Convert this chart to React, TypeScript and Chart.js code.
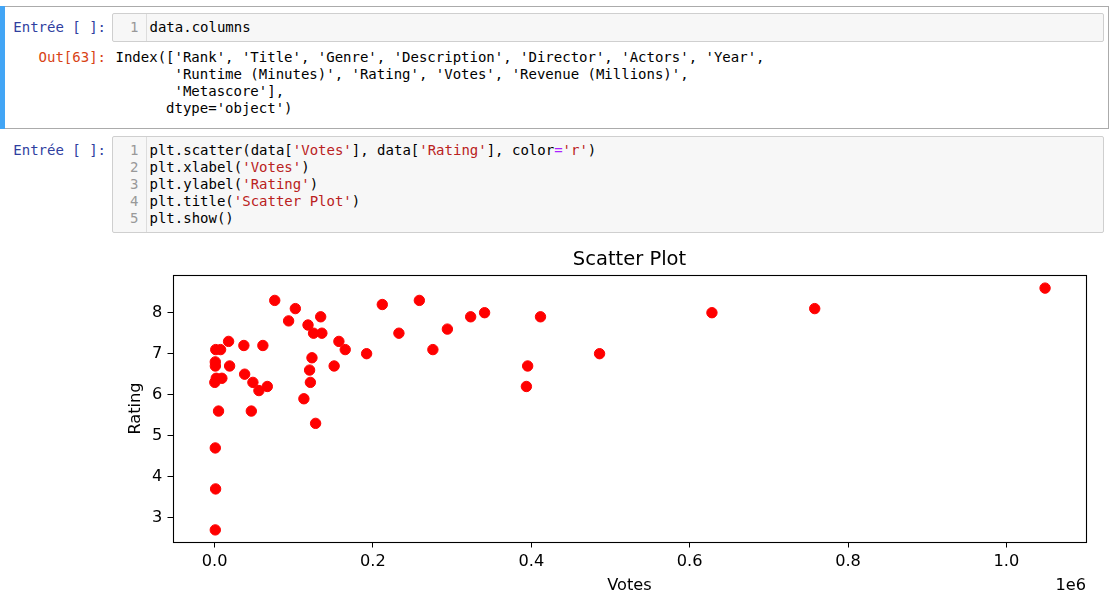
import React, { useEffect, useRef } from 'react';
import { Chart, registerables } from 'chart.js';

Chart.register(...registerables);

// ---- data ----
const votes = [
  76000, 102000, 93500, 134000, 118000, 125000, 135500, 17700, 37000, 61000,
  1500, 7600, 157000, 165000, 192000, 123000, 900, 1000, 19000, 151000,
  120000, 38000, 2100, 9200, 300, 48400, 121000, 66600, 56000, 112800,
  5000, 46400, 127600, 900, 1300, 900, 211800, 258600, 323400, 341000,
  232800, 294000, 275700, 395400, 393800, 411600, 486200, 628100, 757900, 1048800,
];
const ratings = [
  8.3, 8.1, 7.8, 7.9, 7.7, 7.5, 7.5, 7.3, 7.2, 7.2,
  7.1, 7.1, 7.3, 7.1, 7.0, 6.9, 6.8, 6.7, 6.7, 6.7,
  6.6, 6.5, 6.4, 6.4, 6.3, 6.3, 6.3, 6.2, 6.1, 5.9,
  5.6, 5.6, 5.3, 4.7, 3.7, 2.7, 8.2, 8.3, 7.9, 8.0,
  7.5, 7.6, 7.1, 6.7, 6.2, 7.9, 7.0, 8.0, 8.1, 8.6,
];
const xTickValues = [0, 200000, 400000, 600000, 800000, 1000000];
const yTickValues = [3, 4, 5, 6, 7, 8];
const X_MIN = -52500;
const X_MAX = 1100500;
const Y_MIN = 2.405;
const Y_MAX = 8.92;

const chartTitle = 'Scatter Plot';
const xLabel = 'Votes';
const yLabel = 'Rating';
const offsetText = '1e6';

const outputLines = [
  "Index(['Rank', 'Title', 'Genre', 'Description', 'Director', 'Actors', 'Year',",
  "       'Runtime (Minutes)', 'Rating', 'Votes', 'Revenue (Millions)',",
  "       'Metascore'],",
  "      dtype='object')",
];

type Tok = [string, string];
const codeLines: Tok[][] = [
  [['plt.scatter(data[', 'n'], ["'Votes'", 's'], ['], data[', 'n'], ["'Rating'", 's'], ['], color', 'n'], ['=', 'o'], ["'r'", 's'], [')', 'n']],
  [['plt.xlabel(', 'n'], ["'Votes'", 's'], [')', 'n']],
  [['plt.ylabel(', 'n'], ["'Rating'", 's'], [')', 'n']],
  [['plt.title(', 'n'], ["'Scatter Plot'", 's'], [')', 'n']],
  [['plt.show()', 'n']],
];

const MONO = '"DejaVu Sans Mono", monospace';
const SANS = 'DejaVu Sans';
const tokColor: Record<string, string> = { n: '#000', s: '#BA2121', o: '#AA22FF' };

const lineStyle = (top: number): React.CSSProperties => ({
  position: 'absolute',
  top,
  height: 17,
  lineHeight: '17px',
  fontSize: 14,
  fontFamily: MONO,
  whiteSpace: 'pre',
});

function Prompt({ text, color, center }: { text: string; color: string; center: number }) {
  return (
    <div style={{ ...lineStyle(center - 8.5), left: 0, width: 106, textAlign: 'right', color }}>{text}</div>
  );
}

function InputBox({ top, lines }: { top: number; lines: number }) {
  const h = lines * 17 + 12;
  return (
    <div
      style={{
        position: 'absolute',
        left: 111.5,
        top,
        width: 992.5,
        height: h,
        boxSizing: 'border-box',
        border: '1px solid #cfcfcf',
        borderRadius: 2,
        background: '#f7f7f7',
      }}
    >
      <div style={{ position: 'absolute', left: 33, top: 0, bottom: 0, borderRight: '1px solid #ddd' }} />
    </div>
  );
}

export default function App() {
  const ref = useRef<HTMLCanvasElement>(null);

  useEffect(() => {
    const tickFont = { family: SANS, size: 16.2, weight: 'normal' as const };
    const framePlugin = {
      id: 'frame',
      afterDraw(chart: any) {
        const { ctx, chartArea } = chart;
        ctx.save();
        ctx.strokeStyle = '#000';
        ctx.lineWidth = 1.1;
        ctx.strokeRect(
          Math.round(chartArea.left) + 0.5,
          Math.round(chartArea.top) + 0.5,
          Math.round(chartArea.right) - Math.round(chartArea.left),
          Math.round(chartArea.bottom) - Math.round(chartArea.top)
        );
        ctx.font = `16.2px "${SANS}"`;
        ctx.fillStyle = '#000';
        ctx.textAlign = 'right';
        ctx.textBaseline = 'alphabetic';
        ctx.fillText(offsetText, chartArea.right, chartArea.bottom + 47.5);
        ctx.restore();
      },
    };

    const chart = new Chart(ref.current as HTMLCanvasElement, {
      type: 'scatter',
      data: {
        datasets: [
          {
            data: votes.map((v, i) => ({ x: v, y: ratings[i] })),
            backgroundColor: '#ff0000',
            borderColor: '#ff0000',
            borderWidth: 1,
            pointRadius: 5.2,
            pointHoverRadius: 5.2,
          },
        ],
      },
      options: {
        responsive: false,
        animation: false,
        devicePixelRatio: 1,
        layout: { padding: { left: 0, right: 26, top: 0, bottom: 0 } },
        plugins: {
          legend: { display: false },
          tooltip: { enabled: false },
          title: {
            display: true,
            text: chartTitle,
            fullSize: false,
            color: '#000',
            font: { family: SANS, size: 19.5, weight: 'normal' },
            padding: { top: 8.5, bottom: 3.1 },
          },
        },
        scales: {
          x: {
            type: 'linear',
            min: X_MIN,
            max: X_MAX,
            afterFit: (s: any) => {
              s.height = 66;
            },
            afterBuildTicks: (s: any) => {
              s.ticks = xTickValues.map((v) => ({ value: v }));
            },
            ticks: {
              callback: (v: any) => (Number(v) / 1e6).toFixed(1),
              font: tickFont,
              color: '#000',
              padding: 4.2,
              maxRotation: 0,
              autoSkip: false,
            },
            grid: { drawOnChartArea: false, drawTicks: true, tickLength: 5.5, color: '#000', lineWidth: 1 },
            border: { display: false },
            title: { display: true, text: xLabel, color: '#000', font: tickFont, padding: { top: 0, bottom: 12.2 } },
          },
          y: {
            type: 'linear',
            min: Y_MIN,
            max: Y_MAX,
            afterFit: (s: any) => {
              s.width = 173;
            },
            afterBuildTicks: (s: any) => {
              s.ticks = yTickValues.map((v) => ({ value: v }));
            },
            ticks: {
              callback: (v: any) => String(v),
              font: tickFont,
              color: '#000',
              padding: 5.2,
              autoSkip: false,
            },
            grid: { drawOnChartArea: false, drawTicks: true, tickLength: 5.5, color: '#000', lineWidth: 1 },
            border: { display: false },
            title: { display: true, text: yLabel, color: '#000', font: tickFont, padding: { top: 126.5, bottom: 0 } },
          },
        },
      },
      plugins: [framePlugin],
    } as any);
    return () => chart.destroy();
  }, []);

  return (
    <div
      style={{
        position: 'fixed',
        left: 0,
        top: 0,
        width: 1112,
        height: 608,
        background: '#fff',
        overflow: 'hidden',
      }}
    >
      {/* cell 1 (selected) */}
      <div
        style={{
          position: 'absolute',
          left: 0,
          top: 6,
          width: 1109,
          height: 123,
          boxSizing: 'border-box',
          border: '1px solid #ababab',
        }}
      />
      <div style={{ position: 'absolute', left: 0, top: 6, width: 5, height: 123, background: '#42A5F5' }} />
      <Prompt text="Entrée [ ]:" color="#303F9F" center={27} />
      <InputBox top={12.5} lines={1} />
      <div style={{ ...lineStyle(27 - 8.5), left: 111.5, width: 27, textAlign: 'right', color: '#999' }}>1</div>
      <div style={{ ...lineStyle(27 - 8.5), left: 149.5, color: '#000' }}>data.columns</div>
      <Prompt text="Out[63]:" color="#D84315" center={57} />
      {outputLines.map((l, i) => (
        <div key={i} style={{ ...lineStyle(57 - 8.5 + i * 17), left: 115.5, color: '#000' }}>
          {l}
        </div>
      ))}

      {/* cell 2 */}
      <Prompt text="Entrée [ ]:" color="#303F9F" center={150.5} />
      <InputBox top={136.3} lines={5} />
      {codeLines.map((toks, i) => (
        <React.Fragment key={i}>
          <div style={{ ...lineStyle(150.5 - 8.5 + i * 17), left: 111.5, width: 27, textAlign: 'right', color: '#999' }}>
            {i + 1}
          </div>
          <div style={{ ...lineStyle(150.5 - 8.5 + i * 17), left: 149.5 }}>
            {toks.map(([t, k], j) => (
              <span key={j} style={{ color: tokColor[k] }}>
                {t}
              </span>
            ))}
          </div>
        </React.Fragment>
      ))}

      <canvas
        ref={ref}
        width={1112}
        height={368}
        style={{ position: 'absolute', left: 0, top: 240, width: 1112, height: 368 }}
      />
    </div>
  );
}
